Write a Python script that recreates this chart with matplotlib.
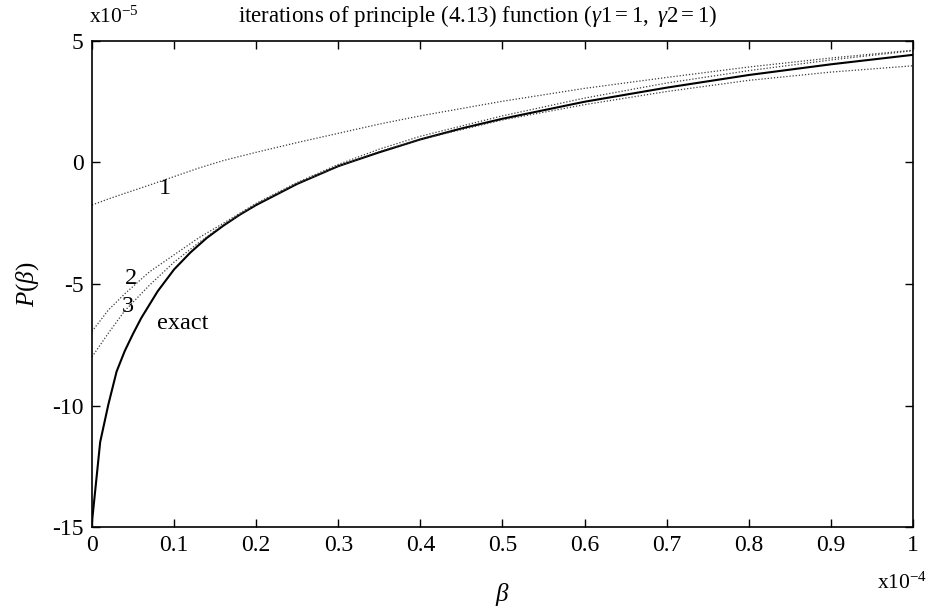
import matplotlib
matplotlib.use("Agg")
import matplotlib.pyplot as plt

plt.rcParams["font.family"] = ["Liberation Serif", "DejaVu Serif"]
plt.rcParams["axes.unicode_minus"] = False
plt.rcParams["mathtext.fontset"] = "custom"
plt.rcParams["mathtext.it"] = "Liberation Serif:italic"
plt.rcParams["mathtext.rm"] = "Liberation Serif"

# beta in units of 1e-4, P(beta) in units of 1e-5
beta_exact = [0, 0.01, 0.02, 0.03, 0.04, 0.05, 0.06, 0.07, 0.08, 0.09, 0.1,
              0.12, 0.14, 0.16, 0.18, 0.2, 0.25, 0.3, 0.35, 0.4, 0.45, 0.5,
              0.6, 0.7, 0.8, 0.9, 1.0]
p_exact = [-14.8, -11.5, -9.95, -8.6, -7.75, -7.05, -6.4, -5.85, -5.3, -4.85, -4.4,
           -3.7, -3.1, -2.6, -2.15, -1.75, -0.88, -0.15, 0.42, 0.95, 1.4, 1.8,
           2.5, 3.08, 3.6, 4.04, 4.43]

beta_iter = [0, 0.02, 0.04, 0.07, 0.1, 0.13, 0.16, 0.2, 0.25, 0.3, 0.35, 0.4,
             0.5, 0.6, 0.7, 0.8, 0.9, 1.0]
p_iter1 = [-1.75, -1.5, -1.27, -0.93, -0.58, -0.23, 0.08, 0.42, 0.82, 1.2, 1.58, 1.92,
           2.52, 3.05, 3.5, 3.93, 4.3, 4.62]
p_iter2 = [-6.95, -6.07, -5.4, -4.5, -3.8, -3.1, -2.5, -1.68, -0.82, -0.08, 0.55, 1.08,
           1.92, 2.65, 3.27, 3.78, 4.22, 4.6]
p_iter3 = [-8.0, -7.02, -6.1, -5.05, -4.1, -3.3, -2.56, -1.72, -0.86, -0.16, 0.45, 0.95,
           1.75, 2.38, 2.92, 3.38, 3.72, 3.98]

x_ticks = [0, 0.1, 0.2, 0.3, 0.4, 0.5, 0.6, 0.7, 0.8, 0.9, 1.0]
x_ticklabels = ["0", "0.1", "0.2", "0.3", "0.4", "0.5", "0.6", "0.7", "0.8", "0.9", "1"]
y_ticks = [-15, -10, -5, 0, 5]
y_ticklabels = ["-15", "-10", "-5", "0", "5"]

curve_labels = ["1", "2", "3", "exact"]
label_pos = [(0.089, -1.07), (0.048, -4.77), (0.044, -5.93), (0.111, -6.61)]

fig = plt.figure(figsize=(9.30, 6.09), dpi=100)
ax = fig.add_axes([0.0989, 0.1346, 0.8828, 0.7981])

ax.plot(beta_exact, p_exact, color="black", lw=1.5, solid_joinstyle="round")
for p in (p_iter1, p_iter2, p_iter3):
    ax.plot(beta_iter, p, color="#3a3a3a", lw=0.9, linestyle=(0, (1, 1.5)))

for txt, (bx, by) in zip(curve_labels, label_pos):
    ax.text(bx, by, txt, fontsize=17.5, ha="center", va="center")

ax.set_xlim(0, 1)
ax.set_ylim(-15, 5)
ax.set_xticks(x_ticks)
ax.set_xticklabels(x_ticklabels)
ax.set_yticks(y_ticks)
ax.set_yticklabels(y_ticklabels)
ax.tick_params(direction="in", length=6, width=1, labelsize=17,
               top=True, right=True, pad=6)
for s in ax.spines.values():
    s.set_linewidth(1.2)

ax.set_xlabel(r"$\it{\beta}$", fontsize=18, labelpad=18)
ax.set_ylabel(r"$\it{P(\beta)}$", fontsize=18, labelpad=8)

fig.text(0.513, 0.973, r"iterations of principle (4.13) function ($\mathit{\gamma}1 = 1,\ \mathit{\gamma}2 = 1$)",
         fontsize=16.5, ha="center", va="center")
fig.text(0.096, 0.972, r"x10$^{\mathregular{-5}}$", fontsize=15.5, ha="left", va="center")
fig.text(0.997, 0.042, r"x10$^{\mathregular{-4}}$", fontsize=15.5, ha="right", va="center")

fig.savefig("out.png", dpi=100)
